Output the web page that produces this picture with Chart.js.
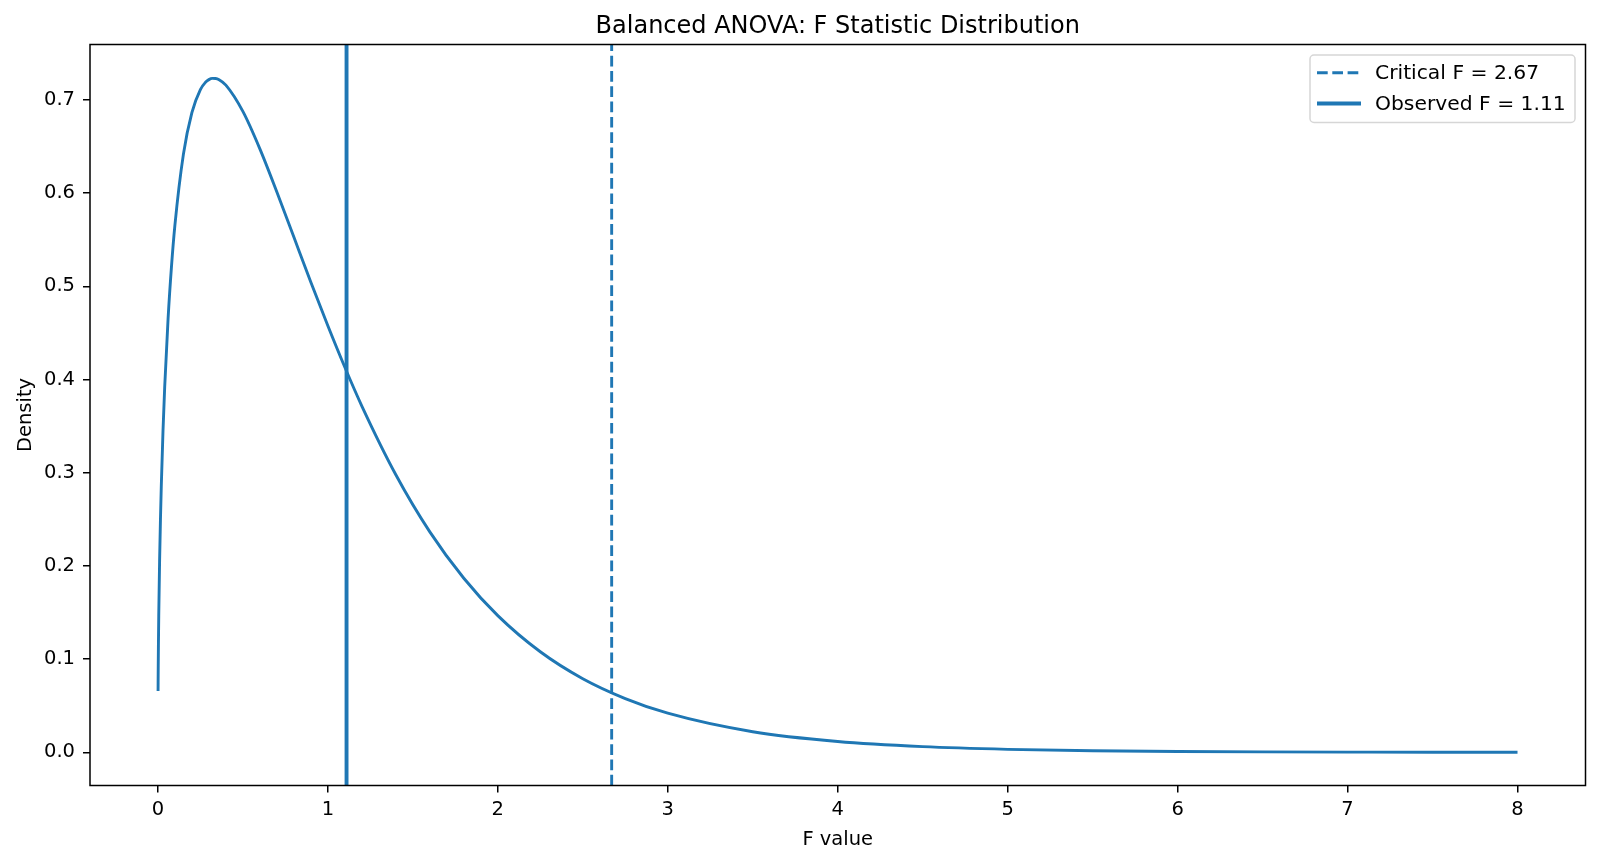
<!DOCTYPE html>
<html>
<head>
<meta charset="utf-8">
<script src="https://cdn.jsdelivr.net/npm/chart.js@4.4.1/dist/chart.umd.min.js"></script>
<style>
  html, body { margin: 0; padding: 0; background: #fff; }
  #wrap { width: 1600px; height: 864px; }
</style>
</head>
<body>
<div id="wrap"><canvas id="fChart" width="1600" height="864"></canvas></div>
<script>
// F 값 (x) 과 밀도 (y), 그림에서 읽은 값
const fValues = [0.001, 0.002, 0.003, 0.005, 0.01, 0.015, 0.02, 0.03, 0.04, 0.06, 0.08, 0.1,
  0.15, 0.2, 0.25, 0.28, 0.3, 0.32, 0.34, 0.36, 0.4, 0.5, 0.6, 0.7, 0.8, 0.9, 1.0, 1.1, 1.2, 1.4, 1.6, 1.8, 2.0,
  2.25, 2.5, 2.75, 3.0, 3.5, 4.0, 4.5, 5.0, 5.5, 6.0, 6.5, 7.0, 7.5, 8.0];
const density = [0.0658, 0.0929, 0.1136, 0.1462, 0.2052, 0.2494, 0.2858, 0.3448, 0.3920, 0.4657, 0.5215, 0.5655,
  0.6417, 0.6865, 0.7112, 0.7190, 0.7219, 0.7232, 0.7231, 0.7218, 0.7160, 0.6878, 0.6476, 0.6013, 0.5529, 0.5045, 0.4577, 0.4132, 0.3716, 0.2979, 0.2366, 0.1868, 0.1467,
  0.1079, 0.0790, 0.0577, 0.0420, 0.0221, 0.0116, 0.0061, 0.0032, 0.0017, 0.0009, 0.00048, 0.00025, 0.00013, 0.00007];

const criticalF = 2.67;
const observedF = 1.11;

const xTicks = [0, 1, 2, 3, 4, 5, 6, 7, 8];
const yTicks = [0.0, 0.1, 0.2, 0.3, 0.4, 0.5, 0.6, 0.7];

const xRange = [-0.3995, 8.4];
const yRange = [-0.0356, 0.7596];

const BLUE = '#1f77b4';
const FONT = 'DejaVu Sans';

// 제목을 축 영역 가운데로 옮김
const centerTitle = {
  id: 'centerTitle',
  afterLayout(chart) {
    const t = chart.titleBlock;
    if (!t) return;
    t.left = chart.chartArea.left;
    t.right = chart.chartArea.right;
  }
};

// 축 테두리 (matplotlib 스타일 상자)
const framePlugin = {
  id: 'frame',
  afterDatasetsDraw(chart) {
    const { ctx, chartArea: a } = chart;
    ctx.save();
    ctx.strokeStyle = '#000';
    ctx.lineWidth = 1.5;
    ctx.strokeRect(a.left, a.top, a.right - a.left, a.bottom - a.top);
    ctx.restore();
  }
};

// 오른쪽 위 범례 (축 안쪽)
const innerLegend = {
  id: 'innerLegend',
  afterDatasetsDraw(chart) {
    const { ctx, chartArea: a } = chart;
    const items = chart.data.datasets.filter(d => d.label);
    const boxR = a.right - 10.5, boxT = a.top + 10.5;
    const boxW = 265, boxH = 67.5;
    const boxL = boxR - boxW;
    ctx.save();
    ctx.beginPath();
    ctx.roundRect(boxL, boxT, boxW, boxH, 4);
    ctx.fillStyle = 'rgba(255,255,255,0.8)';
    ctx.fill();
    ctx.strokeStyle = 'rgba(204,204,204,0.8)';
    ctx.lineWidth = 1.5;
    ctx.stroke();
    ctx.font = '20.3px "' + FONT + '"';
    ctx.textBaseline = 'middle';
    ctx.fillStyle = '#000';
    items.forEach((d, i) => {
      const y = boxT + 17.7 + i * 30.8;
      ctx.beginPath();
      ctx.strokeStyle = d.borderColor;
      ctx.lineWidth = d.borderWidth;
      ctx.setLineDash(d.borderDash || []);
      ctx.moveTo(boxL + 7, y);
      ctx.lineTo(boxL + 51, y);
      ctx.stroke();
      ctx.setLineDash([]);
      ctx.fillText(d.label, boxL + 65, y + 1);
    });
    ctx.restore();
  }
};

const curve = fValues.map((x, i) => ({ x, y: density[i] }));

new Chart(document.getElementById('fChart'), {
  type: 'line',
  data: {
    datasets: [
      {
        data: curve,
        borderColor: BLUE,
        borderWidth: 2.9,
        pointRadius: 0,
        cubicInterpolationMode: 'monotone',
        fill: false,
        order: 3
      },
      {
        label: 'Critical F = ' + criticalF.toFixed(2),
        data: [{ x: criticalF, y: yRange[0] }, { x: criticalF, y: yRange[1] }],
        borderColor: BLUE,
        borderWidth: 2.9,
        borderDash: [10.7, 4.6],
        pointRadius: 0,
        order: 2
      },
      {
        label: 'Observed F = ' + observedF.toFixed(2),
        data: [{ x: observedF, y: yRange[0] }, { x: observedF, y: yRange[1] }],
        borderColor: BLUE,
        borderWidth: 3.9,
        pointRadius: 0,
        order: 1
      }
    ]
  },
  options: {
    responsive: false,
    animation: false,
    layout: { padding: { left: 0, right: 14.5, top: 0, bottom: 0 } },
    plugins: {
      legend: { display: false },
      tooltip: { enabled: false },
      title: {
        display: true,
        text: 'Balanced ANOVA: F Statistic Distribution',
        color: '#000',
        font: { family: FONT, size: 24, weight: 'normal' },
        padding: { top: 12, bottom: 3.7 }
      }
    },
    scales: {
      x: {
        type: 'linear',
        min: xRange[0],
        max: xRange[1],
        afterFit(scale) { scale.height = 78.5; },
        afterBuildTicks(scale) { scale.ticks = xTicks.map(v => ({ value: v })); },
        border: { display: false },
        grid: { drawOnChartArea: false, drawTicks: true, tickLength: 7, color: '#000', lineWidth: 1.5 },
        ticks: {
          color: '#000',
          font: { family: FONT, size: 19.5 },
          padding: 6,
          maxRotation: 0,
          autoSkip: false,
          callback: v => String(v)
        },
        title: {
          display: true,
          text: 'F value',
          color: '#000',
          font: { family: FONT, size: 19.5 },
          padding: { top: 0, bottom: 12 }
        }
      },
      y: {
        type: 'linear',
        min: yRange[0],
        max: yRange[1],
        afterFit(scale) { scale.width = 90; },
        afterBuildTicks(scale) { scale.ticks = yTicks.map(v => ({ value: v })); },
        border: { display: false },
        grid: { drawOnChartArea: false, drawTicks: true, tickLength: 7, color: '#000', lineWidth: 1.5 },
        ticks: {
          color: '#000',
          font: { family: FONT, size: 19.5 },
          padding: 8,
          autoSkip: false,
          callback: v => v.toFixed(1)
        },
        title: {
          display: true,
          text: 'Density',
          color: '#000',
          font: { family: FONT, size: 19.5 },
          padding: { top: 14, bottom: 0 }
        }
      }
    }
  },
  plugins: [centerTitle, framePlugin, innerLegend]
});
</script>
</body>
</html>
